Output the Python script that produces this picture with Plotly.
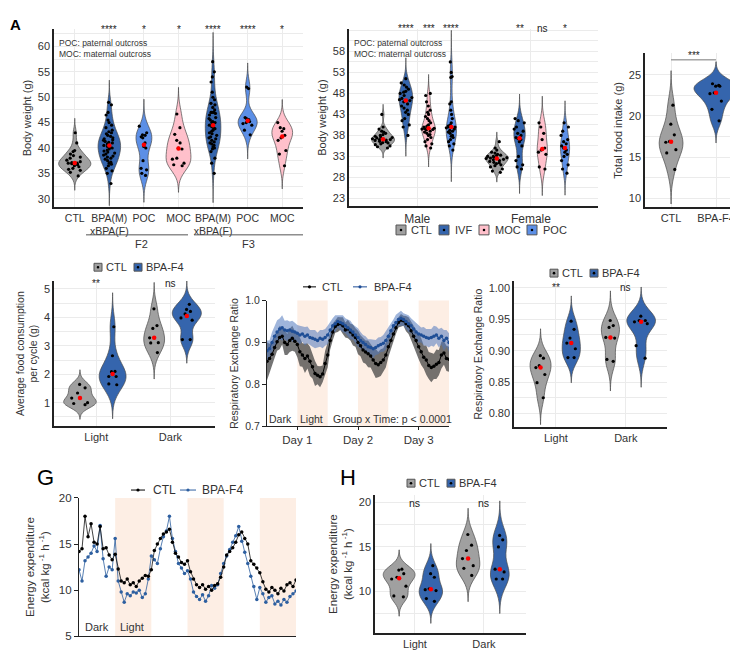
import numpy as np
import plotly.graph_objects as go

W, H = 738, 650

# ---------------- DATA ----------------
# Panel A : body weight by generation
a_categories = ["CTL", "BPA(M)<br>xBPA(F)", "POC", "MOC", "BPA(M)<br>xBPA(F)", "POC", "MOC"]
a_ctl = [43.0, 41.0, 39.5, 39.3, 38.8, 38.5, 38.2, 38.0, 37.6, 37.3, 37.1, 37.0, 37.0, 36.9, 36.7, 36.5, 36.3, 36.0, 35.8, 35.6, 35.2, 34.5]
a_bpa_f2 = [49.0, 48.5, 47.0, 46.5, 45.5, 45.0, 44.5, 44.0, 43.5, 43.2, 43.0, 42.8, 42.5, 42.3, 42.0, 41.8, 41.6, 41.5, 41.3, 41.1, 41.0, 40.8, 40.6, 40.5, 40.3, 40.1, 40.0, 39.8, 39.6, 39.4, 39.2, 39.0, 38.8, 38.6, 38.4, 38.2, 38.0, 37.8, 37.5, 37.2, 37.0, 36.8, 36.5, 36.0, 35.5, 35.0, 33.0]
a_poc_f2 = [44.3, 43.0, 42.6, 42.5, 42.2, 42.0, 41.0, 40.3, 40.0, 37.5, 36.0, 35.7, 35.0, 34.6]
a_moc_f2 = [46.7, 44.0, 42.7, 41.5, 41.0, 40.0, 39.8, 38.0, 37.8, 37.0, 36.7, 36.5]
a_bpa_f3 = [57.0, 55.0, 54.0, 53.0, 51.0, 50.0, 49.5, 48.8, 48.5, 48.0, 47.5, 47.0, 47.0, 47.0, 46.8, 46.5, 46.0, 45.8, 45.5, 45.2, 45.0, 45.0, 44.7, 44.5, 44.2, 44.0, 43.8, 43.5, 43.3, 43.0, 42.8, 42.5, 42.2, 42.0, 41.8, 41.5, 41.2, 41.0, 40.8, 40.5, 40.2, 40.0, 39.8, 39.3, 38.0, 37.0, 35.0]
a_poc_f3 = [52.0, 51.7, 46.0, 45.8, 45.6, 45.5, 45.2, 45.0, 44.8, 44.5, 43.5, 42.6]
a_moc_f3 = [45.0, 44.0, 43.8, 43.3, 42.5, 42.0, 41.5, 39.5, 38.8, 36.5]
a_signif = ["", "****", "*", "*", "****", "****", "*"]
a_yticks = [30, 35, 40, 45, 50, 55, 60]

# Panel B : body weight by sex
b_sexes = ["Male", "Female"]
b_groups = ["CTL", "IVF", "MOC", "POC"]
b_m_ctl = [43.0, 40.0, 39.5, 39.0, 38.8, 38.5, 38.2, 38.0, 37.8, 37.6, 37.4, 37.2, 37.0, 37.0, 36.9, 36.8, 36.6, 36.5, 36.3, 36.2, 36.0, 35.8, 35.5, 35.3, 35.0, 37.5]
b_m_ivf = [51.5, 50.5, 50.0, 49.5, 49.0, 48.5, 48.3, 48.0, 47.5, 47.0, 46.8, 46.5, 46.3, 46.0, 45.5, 45.0, 44.5, 44.0, 43.5, 43.0, 42.0, 41.5, 40.5, 40.0, 38.0]
b_m_moc = [48.0, 47.5, 46.0, 45.0, 44.0, 43.5, 43.0, 42.5, 42.0, 41.5, 41.0, 40.5, 40.2, 40.0, 39.8, 39.6, 39.5, 39.3, 39.0, 38.8, 38.5, 38.2, 38.0, 37.5, 37.0, 36.5, 36.0, 35.5, 35.0, 39.7, 39.4]
b_m_poc = [55.5, 53.0, 52.0, 51.8, 46.0, 45.5, 44.0, 43.0, 42.0, 41.0, 40.5, 40.3, 40.2, 40.0, 40.0, 39.8, 39.5, 39.2, 39.0, 38.8, 38.5, 38.0, 37.8, 37.5, 37.0, 36.5, 36.0, 35.5, 34.5]
b_f_ctl = [36.5, 35.0, 34.5, 34.0, 33.8, 33.5, 33.3, 33.2, 33.0, 33.0, 32.8, 32.7, 32.6, 32.5, 32.3, 32.2, 32.0, 31.8, 31.6, 31.5, 31.3, 31.0, 30.8, 30.5, 30.0, 29.5, 29.2]
b_f_ivf = [42.0, 41.5, 41.0, 40.0, 39.5, 39.0, 38.5, 37.2, 38.0, 37.5, 37.0, 36.5, 35.5, 33.0, 32.0, 31.0, 30.5, 30.0]
b_f_moc = [41.0, 40.0, 38.5, 37.0, 35.0, 34.5, 34.0, 33.5, 30.5, 30.0]
b_f_poc = [41.0, 40.0, 39.0, 38.0, 37.0, 36.5, 36.0, 35.5, 35.0, 34.5, 34.0, 33.5, 33.0, 32.0, 31.0, 30.0, 29.0]
b_signif_male = ["", "****", "***", "****"]
b_signif_female = ["", "**", "ns", "*"]
b_yticks = [23, 28, 33, 38, 43, 48, 53, 58]

# Panel C : total food intake
c_categories = ["CTL", "BPA-F4"]
c_ctl = [21.3, 19.0, 17.7, 16.9, 16.8, 15.9, 15.5, 13.5]
c_bpa = [23.9, 23.7, 23.6, 23.6, 22.8, 22.7, 21.8, 20.8, 19.4]
c_yticks = [10, 15, 20, 25]

# Panel D : average food consumption per cycle
cycles = ["Light", "Dark"]
d_ctl_light = [1.64, 1.52, 1.34, 1.16, 1.0, 0.97, 0.93]
d_bpa_light = [3.67, 2.65, 2.1, 2.09, 1.92, 1.92, 1.66, 1.63]
d_ctl_dark = [4.30, 3.71, 3.61, 3.28, 3.11, 3.10, 2.76]
d_bpa_dark = [4.46, 4.28, 4.21, 4.12, 3.98, 3.90, 3.22, 3.22]
d_signif = ["**", "ns"]
d_yticks = [1, 2, 3, 4, 5]

# Panel E : RER time course (hourly)
hours = list(range(0, 73))
light_periods = [(12, 24), (36, 48), (60, 72)]
day_ticks = [12, 36, 60]
day_labels = ["Day 1", "Day 2", "Day 3"]
e_ctl = [0.855, 0.862, 0.872, 0.888, 0.902, 0.912, 0.915, 0.900, 0.895, 0.905, 0.910, 0.903,
         0.895, 0.878, 0.870, 0.862, 0.868, 0.855, 0.842, 0.826, 0.822, 0.818, 0.825, 0.850,
         0.870, 0.905, 0.925, 0.938, 0.943, 0.945, 0.940, 0.930, 0.932, 0.925, 0.918, 0.912,
         0.900, 0.892, 0.882, 0.877, 0.873, 0.868, 0.858, 0.850, 0.847, 0.852, 0.858, 0.870,
         0.890, 0.905, 0.920, 0.935, 0.948, 0.953, 0.952, 0.945, 0.940, 0.928, 0.915, 0.905,
         0.890, 0.878, 0.865, 0.858, 0.845, 0.840, 0.843, 0.848, 0.852, 0.870, 0.875, 0.862,
         0.860]
e_bpa = [0.880, 0.885, 0.900, 0.915, 0.925, 0.932, 0.935, 0.930, 0.928, 0.930, 0.927, 0.925,
         0.922, 0.918, 0.920, 0.915, 0.918, 0.912, 0.910, 0.908, 0.905, 0.910, 0.908, 0.912,
         0.918, 0.930, 0.940, 0.945, 0.950, 0.948, 0.945, 0.940, 0.935, 0.930, 0.925, 0.918,
         0.912, 0.905, 0.900, 0.895, 0.890, 0.888, 0.885, 0.888, 0.892, 0.895, 0.898, 0.905,
         0.915, 0.928, 0.940, 0.948, 0.955, 0.958, 0.955, 0.950, 0.945, 0.940, 0.932, 0.925,
         0.920, 0.918, 0.915, 0.912, 0.910, 0.912, 0.915, 0.918, 0.910, 0.915, 0.905, 0.910,
         0.900]
e_ctl_sem = [0.045, 0.035, 0.030, 0.025, 0.022, 0.028, 0.020, 0.030, 0.025, 0.028, 0.030, 0.025,
             0.030, 0.035, 0.028, 0.035, 0.030, 0.035, 0.028, 0.030, 0.022, 0.025, 0.020, 0.030,
             0.030, 0.022, 0.020, 0.015, 0.018, 0.015, 0.020, 0.018, 0.022, 0.020, 0.025, 0.022,
             0.028, 0.025, 0.030, 0.028, 0.032, 0.028, 0.030, 0.035, 0.030, 0.032, 0.028, 0.030,
             0.025, 0.022, 0.018, 0.015, 0.012, 0.015, 0.012, 0.018, 0.020, 0.022, 0.025, 0.028,
             0.030, 0.032, 0.028, 0.035, 0.032, 0.035, 0.030, 0.035, 0.030, 0.032, 0.028, 0.030,
             0.030]
e_bpa_sem = [0.025, 0.020, 0.025, 0.022, 0.028, 0.025, 0.030, 0.022, 0.025, 0.020, 0.025, 0.022,
             0.020, 0.022, 0.018, 0.022, 0.020, 0.018, 0.020, 0.022, 0.018, 0.020, 0.022, 0.020,
             0.022, 0.020, 0.018, 0.020, 0.015, 0.018, 0.020, 0.018, 0.020, 0.022, 0.018, 0.020,
             0.022, 0.020, 0.018, 0.020, 0.018, 0.020, 0.022, 0.018, 0.020, 0.018, 0.020, 0.022,
             0.020, 0.018, 0.015, 0.018, 0.015, 0.018, 0.015, 0.018, 0.020, 0.018, 0.020, 0.022,
             0.020, 0.018, 0.022, 0.020, 0.022, 0.020, 0.025, 0.020, 0.022, 0.020, 0.025, 0.020,
             0.022]

# Panel F : RER per cycle
f_ctl_light = [0.888, 0.892, 0.876, 0.873, 0.862, 0.849, 0.825]
f_bpa_light = [0.947, 0.934, 0.920, 0.912, 0.903, 0.889, 0.889]
f_ctl_dark = [0.948, 0.940, 0.937, 0.921, 0.920, 0.886, 0.883]
f_bpa_dark = [0.955, 0.948, 0.943, 0.948, 0.946, 0.908, 0.888]
f_signif = ["**", "ns"]
f_yticks = [0.80, 0.85, 0.90, 0.95, 1.00]

# Panel G : energy expenditure time course (hourly)
g_ctl = [14.2, 14.5, 18.0, 15.8, 17.2, 15.2, 15.0, 16.9, 14.5, 14.6, 13.8, 13.3,
         13.9, 12.3, 11.0, 10.8, 11.2, 10.6, 10.8, 10.4, 11.0, 11.3, 11.6, 11.5,
         12.2, 14.3, 15.0, 15.6, 16.1, 16.3, 16.6, 15.2, 14.0, 13.6, 13.0, 12.8,
         13.2, 12.0, 11.2, 10.6, 10.3, 10.6, 10.1, 10.4, 10.0, 10.5, 10.7, 11.4,
         12.5, 13.8, 14.2, 14.6, 15.2, 16.0, 16.3, 15.6, 15.0, 13.2, 12.8, 12.4,
         11.9, 10.9, 10.1, 9.8, 10.3, 10.0, 9.6, 10.2, 9.9, 10.6, 10.8, 10.4,
         11.1]
g_bpa = [12.2, 11.0, 13.2, 13.6, 14.0, 14.8, 14.2, 17.0, 13.4, 11.5, 12.5, 12.2,
         15.6, 11.0, 9.8, 8.7, 9.6, 9.4, 9.8, 9.7, 10.0, 9.2, 9.6, 11.2,
         13.7, 13.3, 12.9, 14.5, 15.8, 16.4, 18.0, 15.6, 14.2, 12.9, 12.4, 11.8,
         12.1, 11.2, 9.8, 9.3, 9.0, 9.5, 8.8, 9.4, 10.5, 10.2, 10.6, 11.8,
         12.9, 13.7, 14.4, 15.2, 15.9, 16.9, 15.3, 14.1, 12.9, 11.5, 10.4, 9.0,
         10.3, 9.6, 8.7, 9.2, 9.4, 8.5, 8.8, 8.4, 9.0, 8.7, 9.3, 9.6,
         9.9]

# Panel H : energy expenditure per cycle
h_ctl_light = [12.5, 12.4, 12.0, 11.6, 11.4, 10.6, 9.5, 9.4]
h_bpa_light = [12.9, 12.0, 11.6, 10.3, 10.2, 10.1, 9.2, 8.9]
h_ctl_dark = [16.4, 15.2, 14.6, 13.7, 12.9, 12.6, 11.8]
h_bpa_dark = [16.3, 15.8, 15.0, 12.5, 12.2, 11.4, 11.4]
h_signif = ["ns", "ns"]
h_yticks = [10, 15, 20]

# ---------------- STYLE ----------------
FONT = "Liberation Sans"
C_GRAY = "#a0a0a0"
C_DBLUE = "#3565ad"
C_LBLUE = "#5c8fe6"
C_PINK = "#ffc0cb"
C_OUT = "#4a4a4a"
GRID = "#ebebeb"
AXC = "#222222"
TXT = "#333333"
STAR = "#222222"


def px(x):
    return x / W


def py(y):
    return 1 - y / H


fig = go.Figure()
shapes = []
annotations = []


def add_violin(ax, pos, vals, fill, width, jitter=0.6):
    v = np.array(vals, dtype=float)
    n = len(v)
    bw = 0.9 * v.std(ddof=1) * n ** -0.2
    fig.add_trace(go.Violin(
        x=[pos] * n, y=v, xaxis="x" + ax, yaxis="y" + ax,
        fillcolor=fill, line=dict(color=C_OUT, width=0.7), opacity=1,
        width=width, scalemode="width", bandwidth=bw, spanmode="manual",
        span=[v.min() - 3 * bw, v.max() + 3 * bw],
        points="all", pointpos=0, jitter=jitter,
        marker=dict(color="black", size=3.2, line=dict(width=0)),
        box_visible=False, meanline_visible=False, showlegend=False, hoverinfo="skip"))
    fig.add_trace(go.Scatter(
        x=[pos], y=[np.median(v)], xaxis="x" + ax, yaxis="y" + ax, mode="markers",
        marker=dict(color="red", size=4.5), showlegend=False, hoverinfo="skip"))


def text(x, y, s, size=10, xanchor="center", yanchor="middle", color=TXT, xref="paper", yref="paper"):
    annotations.append(dict(x=x, y=y, xref=xref, yref=yref, text=s, showarrow=False,
                            font=dict(size=size, color=color, family=FONT),
                            xanchor=xanchor, yanchor=yanchor, align="left"))


def box_legend(xc, yc, size, fill, label, fs, tx):
    s = size / 2
    shapes.append(dict(type="rect", xref="paper", yref="paper", x0=px(xc - s), x1=px(xc + s),
                       y0=py(yc + s), y1=py(yc - s), fillcolor=fill, line=dict(color="#555555", width=1)))
    d = 1.3
    shapes.append(dict(type="circle", xref="paper", yref="paper", x0=px(xc - d), x1=px(xc + d),
                       y0=py(yc + d), y1=py(yc - d), fillcolor="black", line=dict(width=0)))
    text(px(tx), py(yc), label, size=fs, xanchor="left")


def line_legend(x0, x1, yc, color, label, fs, tx):
    shapes.append(dict(type="line", xref="paper", yref="paper", x0=px(x0), x1=px(x1),
                       y0=py(yc), y1=py(yc), line=dict(color=color, width=1)))
    xc = (x0 + x1) / 2
    d = 1.6
    shapes.append(dict(type="circle", xref="paper", yref="paper", x0=px(xc - d), x1=px(xc + d),
                       y0=py(yc + d), y1=py(yc - d), fillcolor=color, line=dict(width=0)))
    text(px(tx), py(yc), label, size=fs, xanchor="left")


def vaxes(xdom, ydom, xrange, yrange, tickvals, ticktext, ytickvals, yminor, ytitle,
          xfs=11, yfs=11, tfs=11, yfmt=None):
    xa = dict(domain=[px(xdom[0]), px(xdom[1])], range=xrange, tickvals=tickvals, ticktext=ticktext,
              tickangle=0, showline=True, linecolor=AXC, linewidth=1.5, ticks="", showgrid=True,
              gridcolor=GRID, gridwidth=0.8, zeroline=False, tickfont=dict(size=xfs, color=TXT),
              fixedrange=True)
    ya = dict(domain=[py(ydom[1]), py(ydom[0])], range=yrange, tickvals=ytickvals,
              showline=True, linecolor=AXC, linewidth=1.5, ticks="", showgrid=True, gridcolor=GRID,
              gridwidth=0.8, zeroline=False, tickfont=dict(size=yfs, color=TXT),
              minor=dict(dtick=yminor, tick0=ytickvals[0], showgrid=True, gridcolor=GRID, gridwidth=0.8),
              title=dict(text=ytitle, font=dict(size=tfs, color=TXT), standoff=4))
    if yfmt:
        ya["tickformat"] = yfmt
    return xa, ya


layout_axes = {}
OUTCROSS_NOTE = "POC: paternal outcross<br>MOC: maternal outcross"

# ---- Panel A ----
xa, ya = vaxes((46, 295), (15, 197), [-0.6, 6.6], [28.3, 63.5], list(range(7)), a_categories,
               a_yticks, 2.5, "Body weight (g)", xfs=10.5)
layout_axes["xaxis"], layout_axes["yaxis"] = dict(xa, anchor="y"), dict(ya, anchor="x")
a_series = [a_ctl, a_bpa_f2, a_poc_f2, a_moc_f2, a_bpa_f3, a_poc_f3, a_moc_f3]
a_fills = [C_GRAY, C_DBLUE, C_LBLUE, C_PINK, C_DBLUE, C_LBLUE, C_PINK]
a_widths = [0.93, 0.65, 0.46, 0.72, 0.45, 0.55, 0.6]
for i, (vals, fc, wd) in enumerate(zip(a_series, a_fills, a_widths)):
    add_violin("", i, vals, fc, wd, jitter=0.6)
    if a_signif[i]:
        text(i, py(16), a_signif[i], size=10, xref="x", color=STAR)
text(px(49), py(35), OUTCROSS_NOTE, size=8.5, xanchor="left")
for (x0, x1, lab, xc) in [(78, 180, "F2", 133), (186, 295, "F3", 240)]:
    shapes.append(dict(type="line", xref="paper", yref="paper", x0=px(x0), x1=px(x1), y0=py(225), y1=py(225),
                       line=dict(color="#555555", width=1)))
    text(px(xc), py(234), lab, size=11)

# ---- Panel B ----
xa, ya = vaxes((341, 590), (15, 196), [-0.6, 1.59], [21.1, 63.4], [0, 1], b_sexes,
               b_yticks, 2.5, "Body weight (g)", xfs=12)
layout_axes["xaxis2"], layout_axes["yaxis2"] = dict(xa, anchor="y2"), dict(ya, anchor="x2")
b_offsets = [-0.3, -0.1, 0.1, 0.3]
b_fills = [C_GRAY, C_DBLUE, C_PINK, C_LBLUE]
b_male = [b_m_ctl, b_m_ivf, b_m_moc, b_m_poc]
b_female = [b_f_ctl, b_f_ivf, b_f_moc, b_f_poc]
b_wm = [0.2, 0.12, 0.12, 0.09]
b_wf = [0.2, 0.1, 0.09, 0.08]
for k in range(4):
    add_violin("2", 0 + b_offsets[k], b_male[k], b_fills[k], b_wm[k], jitter=1.0)
    add_violin("2", 1 + b_offsets[k], b_female[k], b_fills[k], b_wf[k], jitter=1.0)
    if b_signif_male[k]:
        text(0 + b_offsets[k], py(15), b_signif_male[k], size=10, xref="x2", color=STAR)
    if b_signif_female[k]:
        text(1 + b_offsets[k], py(15), b_signif_female[k], size=10, xref="x2", color=STAR)
text(px(344), py(35), OUTCROSS_NOTE, size=8.5, xanchor="left")
b_leg = [(393, 401), (436, 445), (476, 485), (524, 533)]
for k in range(4):
    box_legend(b_leg[k][0], 220, 10, b_fills[k], b_groups[k], 11, b_leg[k][1])

# ---- Panel C ----
xa, ya = vaxes((637, 735), (40, 197), [-0.58, 1.6], [8.9, 27.6], [0, 1], c_categories,
               c_yticks, 2.5, "Total food intake (g)")
layout_axes["xaxis3"], layout_axes["yaxis3"] = dict(xa, anchor="y3"), dict(ya, anchor="x3")
add_violin("3", 0, c_ctl, C_GRAY, 0.53, jitter=0.6)
add_violin("3", 1, c_bpa, C_DBLUE, 0.98, jitter=0.5)
shapes.append(dict(type="line", xref="x3", yref="y3", x0=0, x1=1, y0=26.8, y1=26.8,
                   line=dict(color="#777777", width=1)))
text(0.5, 27.3, "***", size=10, xref="x3", yref="y3", color=STAR)

# ---- Panel D ----
xa, ya = vaxes((46, 207), (272, 420), [-0.57, 1.6], [0.17, 5.28], [0, 1], cycles,
               d_yticks, 0.5, "Average food consumption<br>per cycle (g)", tfs=10.5)
layout_axes["xaxis4"], layout_axes["yaxis4"] = dict(xa, anchor="y4"), dict(ya, anchor="x4")
off = 0.22
add_violin("4", 0 - off, d_ctl_light, C_GRAY, 0.44)
add_violin("4", 0 + off, d_bpa_light, C_DBLUE, 0.36)
add_violin("4", 1 - off, d_ctl_dark, C_GRAY, 0.28)
add_violin("4", 1 + off, d_bpa_dark, C_DBLUE, 0.39)
for i in range(2):
    text(i, py(275), d_signif[i], size=10, xref="x4", color=STAR)
box_legend(90, 258, 8, C_GRAY, "CTL", 11, 96)
box_legend(130, 258, 8, C_DBLUE, "BPA-F4", 11, 136)

# ---- Panel E ----
layout_axes["xaxis5"] = dict(domain=[px(259), px(441)], range=[0, 72], anchor="y5", tickvals=day_ticks,
                             ticktext=day_labels, showline=True, linecolor=AXC, linewidth=1.2,
                             ticks="outside", ticklen=3, tickcolor=AXC, showgrid=False, zeroline=False,
                             tickfont=dict(size=11.5, color=TXT), fixedrange=True)
layout_axes["yaxis5"] = dict(domain=[py(420), py(292)], range=[0.7, 1.0], anchor="x5",
                             tickvals=[0.7, 0.8, 0.9, 1.0], ticktext=["0.7", "0.8", "0.9", "1.0"],
                             showline=True, linecolor=AXC, linewidth=1.2, ticks="outside", ticklen=4,
                             tickcolor=AXC, showgrid=False, zeroline=False, tickfont=dict(size=10.5, color=TXT),
                             title=dict(text="Respiratory Exchange Ratio", font=dict(size=10.5, color=TXT), standoff=4))
for (a, b) in light_periods:
    shapes.append(dict(type="rect", xref="x5", yref="y5 domain", x0=a, x1=b, y0=0, y1=1,
                       fillcolor="#fdeee4", line=dict(width=0), layer="below"))
hrs = np.array(hours, dtype=float)
for mean, sem, band in [(e_ctl, e_ctl_sem, "rgba(70,70,70,0.75)"),
                        (e_bpa, e_bpa_sem, "rgba(80,120,190,0.55)")]:
    m = np.array(mean)
    s = np.array(sem)
    fig.add_trace(go.Scatter(x=np.concatenate([hrs, hrs[::-1]]), y=np.concatenate([m + s, (m - s)[::-1]]),
                             xaxis="x5", yaxis="y5", fill="toself", fillcolor=band, line=dict(width=0),
                             mode="lines", showlegend=False, hoverinfo="skip"))
for mean, col in [(e_ctl, "black"), (e_bpa, "#1f4e96")]:
    fig.add_trace(go.Scatter(x=hrs, y=mean, xaxis="x5", yaxis="y5", mode="lines+markers",
                             line=dict(color=col, width=1), marker=dict(color=col, size=3.5),
                             showlegend=False, hoverinfo="skip"))
text(5.5, py(413), "Dark", size=10.5, xref="x5")
text(17.5, py(413), "Light", size=10.5, xref="x5")
text(49.5, py(413), "Group x Time: p < 0.0001", size=10.5, xref="x5")
line_legend(295, 308, 278, "black", "CTL", 11, 312)
line_legend(345, 359, 278, "#1f4e96", "BPA-F4", 11, 364)

# ---- Panel F ----
xa, ya = vaxes((506, 659), (272, 421), [-0.6, 1.59], [0.778, 1.011], [0, 1], cycles,
               f_yticks, 0.025, "Respiratory Exchange Ratio", tfs=10.5, yfmt=".2f")
layout_axes["xaxis6"], layout_axes["yaxis6"] = dict(xa, anchor="y6"), dict(ya, anchor="x6")
add_violin("6", 0 - off, f_ctl_light, C_GRAY, 0.30)
add_violin("6", 0 + off, f_bpa_light, C_DBLUE, 0.26)
add_violin("6", 1 - off, f_ctl_dark, C_GRAY, 0.26)
add_violin("6", 1 + off, f_bpa_dark, C_DBLUE, 0.41)
for i in range(2):
    text(i, py(279), f_signif[i], size=10, xref="x6", color=STAR)
box_legend(546, 264, 8, C_GRAY, "CTL", 11, 552)
box_legend(586, 264, 8, C_DBLUE, "BPA-F4", 11, 592)

# ---- Panel G ----
layout_axes["xaxis7"] = dict(domain=[px(71), px(288)], range=[0, 72], anchor="y7", showline=True,
                             linecolor=AXC, linewidth=1.2, ticks="", showticklabels=False,
                             showgrid=False, zeroline=False, fixedrange=True)
layout_axes["yaxis7"] = dict(domain=[py(634), py(493)], range=[5, 20], anchor="x7",
                             tickvals=[5, 10, 15, 20], showline=True, linecolor=AXC, linewidth=1.2,
                             ticks="outside", ticklen=4, tickcolor=AXC, showgrid=False, zeroline=False,
                             tickfont=dict(size=11.5, color=TXT),
                             title=dict(text="Energy expenditure<br>(kcal kg<sup> -1</sup> h<sup> -1</sup>)",
                                        font=dict(size=11.5, color=TXT), standoff=6))
for (a, b) in light_periods:
    shapes.append(dict(type="rect", xref="x7", yref="y7 domain", x0=a, x1=b, y0=0, y1=1,
                       fillcolor="#fdeee4", line=dict(width=0), layer="below"))
fig.add_trace(go.Scatter(x=hrs, y=g_bpa, xaxis="x7", yaxis="y7", mode="lines+markers",
                         line=dict(color="#2d5fa0", width=0.8), marker=dict(color="#2d5fa0", size=3.5),
                         showlegend=False, hoverinfo="skip"))
fig.add_trace(go.Scatter(x=hrs, y=g_ctl, xaxis="x7", yaxis="y7", mode="lines+markers",
                         line=dict(color="#111111", width=0.8), marker=dict(color="black", size=3.5),
                         showlegend=False, hoverinfo="skip"))
text(6, py(625), "Dark", size=11, xref="x7")
text(17.5, py(625), "Light", size=11, xref="x7")
line_legend(123, 137, 485, "black", "CTL", 12, 143)
line_legend(172, 188, 485, "#2d5fa0", "BPA-F4", 12, 192)

# ---- Panel H ----
xa, ya = vaxes((367, 518), (490, 631), [-0.58, 1.61], [5.3, 20.84], [0, 1], cycles,
               h_yticks, 2.5, "Energy expenditure<br>(kcal kg<sup> -1</sup> h<sup> -1</sup>)", tfs=11.5)
layout_axes["xaxis8"], layout_axes["yaxis8"] = dict(xa, anchor="y8"), dict(ya, anchor="x8")
add_violin("8", 0 - 0.23, h_ctl_light, C_GRAY, 0.46)
add_violin("8", 0 + 0.23, h_bpa_light, C_DBLUE, 0.34)
add_violin("8", 1 - 0.23, h_ctl_dark, C_GRAY, 0.34)
add_violin("8", 1 + 0.23, h_bpa_dark, C_DBLUE, 0.27)
for i in range(2):
    text(i, py(498), h_signif[i], size=10.5, xref="x8", color=STAR)
box_legend(403, 478, 8, C_GRAY, "CTL", 11, 409)
box_legend(443, 478, 8, C_DBLUE, "BPA-F4", 11, 449)

# panel letters
annotations.append(dict(x=0, y=1.0, xref="paper", yref="paper", text="<b>A</b>", showarrow=False,
                        font=dict(size=15, color="black", family=FONT), xanchor="left", yanchor="top"))
text(px(37), py(472), "G", size=22, color="black")
text(px(340), py(472), "H", size=22, color="black")

fig.update_layout(
    width=W, height=H, margin=dict(l=0, r=0, t=0, b=0),
    paper_bgcolor="white", plot_bgcolor="white",
    font=dict(family=FONT, color=TXT),
    showlegend=False, violinmode="overlay", violingap=0,
    shapes=shapes, annotations=annotations,
    **layout_axes,
)

fig.write_html("out.html")
